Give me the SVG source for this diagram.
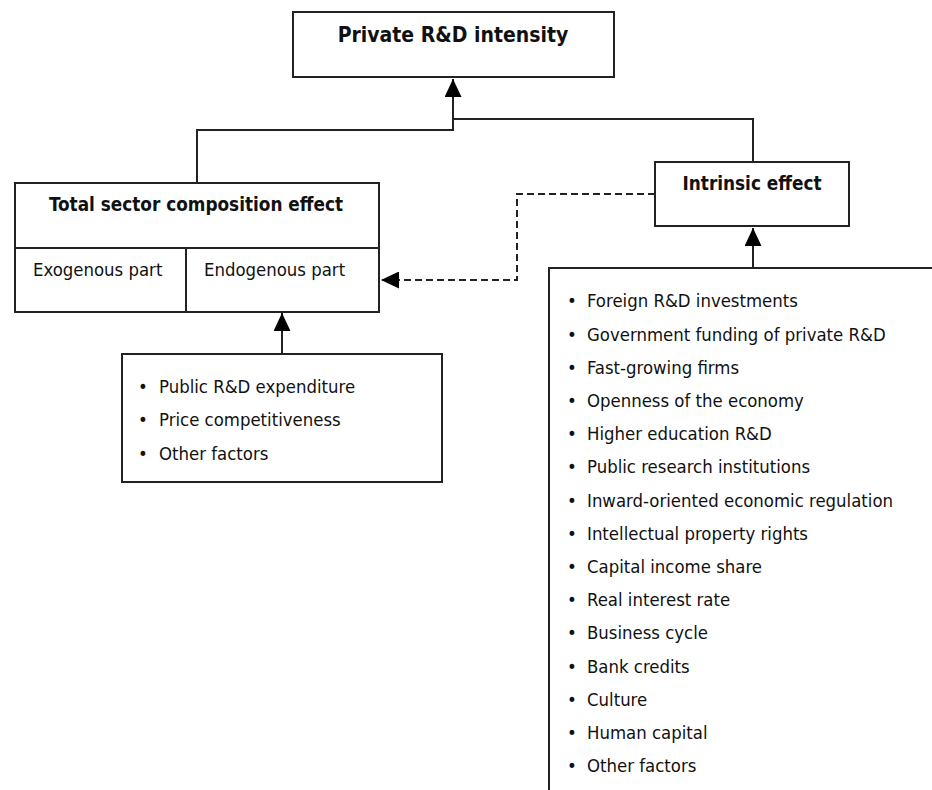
<svg xmlns="http://www.w3.org/2000/svg" width="932" height="790" viewBox="0 0 932 790">
<style>
  .box { fill: #fff; stroke: #222; stroke-width: 2; }
  .ln { fill: none; stroke: #222; stroke-width: 2; }
  .dash { fill: none; stroke: #222; stroke-width: 2; stroke-dasharray: 7 4; }
  text { font-family: "DejaVu Sans Condensed", "DejaVu Sans", Verdana, sans-serif; fill: #111; }
  .t { font-size: 18.4px; }
  .b { font-size: 18.8px; font-weight: bold; }
  .h { font-size: 21px; font-weight: bold; }
</style>
<defs>
  <marker id="ah" viewBox="0 0 18 17" refX="18" refY="8.5" markerWidth="18" markerHeight="17" markerUnits="userSpaceOnUse" orient="auto">
    <path d="M0,0 L18,8.5 L0,17 Z" fill="#000"/>
  </marker>
</defs>
<rect width="932" height="790" fill="#fff"/>

<g id="connectors">
  <path class="ln" d="M197,183 V130 H453 V79" marker-end="url(#ah)"/>
  <path class="ln" d="M753,162 V119 H453"/>
  <path class="dash" d="M655,194 H517 V280 H381" marker-end="url(#ah)"/>
  <path class="ln" d="M753,268 V228" marker-end="url(#ah)"/>
  <path class="ln" d="M282,354 V313" marker-end="url(#ah)"/>
</g>

<g id="node-private">
  <rect class="box" x="293" y="12" width="321" height="65"/>
  <text class="h" x="453" y="42" text-anchor="middle">Private R&amp;D intensity</text>
</g>

<g id="node-total">
  <rect class="box" x="15" y="183" width="364" height="129"/>
  <line class="ln" x1="15" y1="248" x2="379" y2="248"/>
  <line class="ln" x1="186" y1="248" x2="186" y2="312"/>
  <text class="b" x="196" y="211" text-anchor="middle">Total sector composition effect</text>
  <text class="t" x="33" y="276">Exogenous part</text>
  <text class="t" x="204" y="276">Endogenous part</text>
</g>

<g id="node-intrinsic">
  <rect class="box" x="655" y="162" width="194" height="64"/>
  <text class="b" x="752" y="190" text-anchor="middle">Intrinsic effect</text>
</g>

<g id="node-endo-factors">
  <rect class="box" x="122" y="354" width="320" height="128"/>
  <text class="t" y="393"><tspan x="138">•</tspan><tspan x="159">Public R&amp;D expenditure</tspan></text>
  <text class="t" y="426"><tspan x="138">•</tspan><tspan x="159">Price competitiveness</tspan></text>
  <text class="t" y="460"><tspan x="138">•</tspan><tspan x="159">Other factors</tspan></text>
</g>

<g id="node-intrinsic-factors">
  <rect class="box" x="549" y="268" width="400" height="540"/>
  <text class="t" y="307.3"><tspan x="567">•</tspan><tspan x="587">Foreign R&amp;D investments</tspan></text>
  <text class="t" y="340.5"><tspan x="567">•</tspan><tspan x="587">Government funding of private R&amp;D</tspan></text>
  <text class="t" y="373.7"><tspan x="567">•</tspan><tspan x="587">Fast-growing firms</tspan></text>
  <text class="t" y="406.9"><tspan x="567">•</tspan><tspan x="587">Openness of the economy</tspan></text>
  <text class="t" y="440.1"><tspan x="567">•</tspan><tspan x="587">Higher education R&amp;D</tspan></text>
  <text class="t" y="473.3"><tspan x="567">•</tspan><tspan x="587">Public research institutions</tspan></text>
  <text class="t" y="506.5"><tspan x="567">•</tspan><tspan x="587">Inward-oriented economic regulation</tspan></text>
  <text class="t" y="539.7"><tspan x="567">•</tspan><tspan x="587">Intellectual property rights</tspan></text>
  <text class="t" y="572.9"><tspan x="567">•</tspan><tspan x="587">Capital income share</tspan></text>
  <text class="t" y="606.1"><tspan x="567">•</tspan><tspan x="587">Real interest rate</tspan></text>
  <text class="t" y="639.3"><tspan x="567">•</tspan><tspan x="587">Business cycle</tspan></text>
  <text class="t" y="672.5"><tspan x="567">•</tspan><tspan x="587">Bank credits</tspan></text>
  <text class="t" y="705.7"><tspan x="567">•</tspan><tspan x="587">Culture</tspan></text>
  <text class="t" y="738.9"><tspan x="567">•</tspan><tspan x="587">Human capital</tspan></text>
  <text class="t" y="772.1"><tspan x="567">•</tspan><tspan x="587">Other factors</tspan></text>
</g>
</svg>
